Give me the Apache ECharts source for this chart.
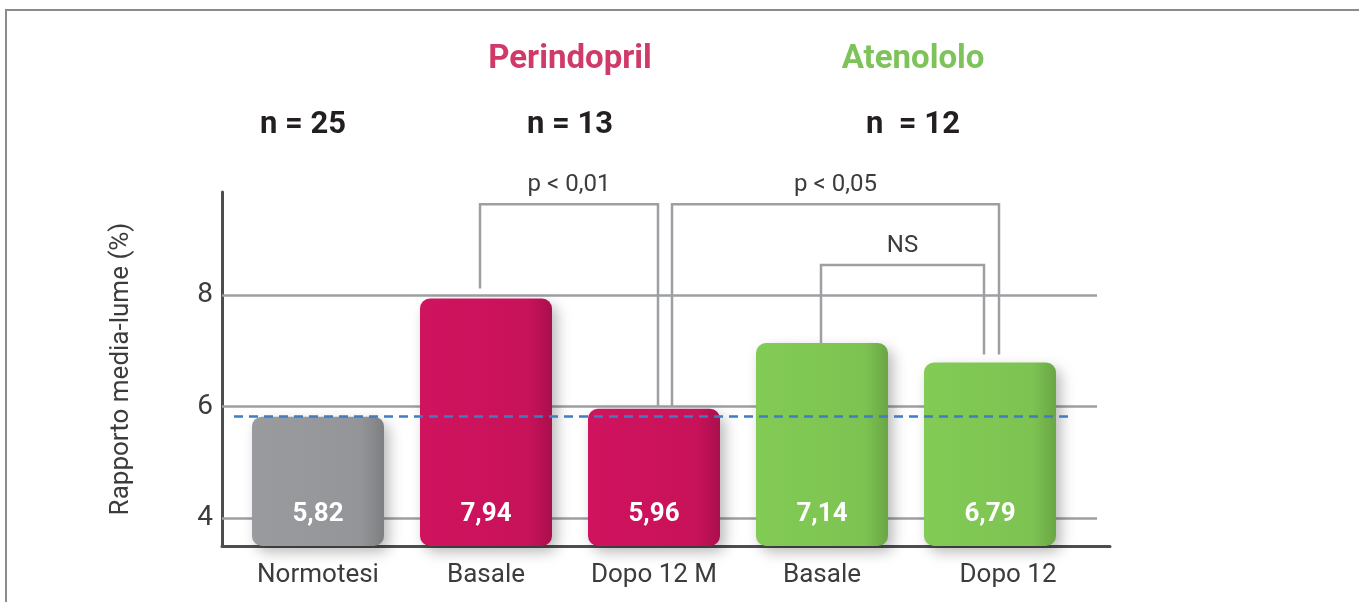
<!DOCTYPE html>
<html>
<head>
<meta charset="utf-8">
<title>Rapporto media-lume</title>
<script src="https://cdn.jsdelivr.net/npm/echarts@6/dist/echarts.min.js"></script>
<style>
  html, body { margin: 0; padding: 0; background: #ffffff; }
  #chart { width: 1359px; height: 602px; }
</style>
</head>
<body>
<div id="chart"></div>
<script>
// Data
const categories = ['Normotesi', 'Basale', 'Dopo 12 M', 'Basale', 'Dopo 12'];
const values = [5.82, 7.94, 5.96, 7.14, 6.79];
const barColors = ['#939598', '#c8125a', '#c8125a', '#7dc352', '#7dc352'];
const yTicks = [4, 6, 8];
const yMin = 3.5;
const yMax = 9.85;
const groupTitles = ['Perindopril', 'Atenololo'];
const groupSizes = ['n = 25', 'n = 13', 'n  = 12'];
// significance brackets: from bar, to bar, bracket height (axis value), text
const bracketFrom = [1, 2, 3];
const bracketTo = [2, 4, 4];
const bracketLevel = [9.63, 9.63, 8.54];
const bracketText = ['p < 0,01', 'p < 0,05', 'NS'];
// normotensive reference level (dashed line)
const referenceValue = values[0];

const chart = echarts.init(document.getElementById('chart'), null, { renderer: 'canvas' });

const FONT = 'Roboto, "DejaVu Sans", sans-serif';
const AXIS_DARK = '#4d4d4f';
const GRID_GREY = '#9d9fa2';
const TEXT_DARK = '#3c3c3c';

function shade(hex, f) {
  const n = parseInt(hex.slice(1), 16);
  const r = Math.round(((n >> 16) & 255) * f);
  const g = Math.round(((n >> 8) & 255) * f);
  const b = Math.round((n & 255) * f);
  return 'rgb(' + Math.min(r, 255) + ',' + Math.min(g, 255) + ',' + Math.min(b, 255) + ')';
}

function barFill(hex) {
  return new echarts.graphic.LinearGradient(0, 0, 1, 0, [
    { offset: 0, color: shade(hex, 1.04) },
    { offset: 0.82, color: hex },
    { offset: 1, color: shade(hex, 0.85) }
  ]);
}

// leg placement of each bracket relative to the bar centres (px) and gap above bar tops
const legShift = [[-6, 4], [18, 9], [-1, -6]];
const legGap = [[10, 2], [2, 8], [0, 8]];

function renderBracket(params, api) {
  const i = params.dataIndex;
  const from = api.value(0);
  const to = api.value(1);
  const level = api.value(2);
  const yLevel = api.coord([from, level])[1];
  const xL = api.coord([from, level])[0] + legShift[i][0];
  const xR = api.coord([to, level])[0] + legShift[i][1];
  const yL = api.coord([from, values[from]])[1] - legGap[i][0];
  const yR = api.coord([to, values[to]])[1] - legGap[i][1];
  return {
    type: 'group',
    children: [
      {
        type: 'polyline',
        shape: { points: [[xL, yL], [xL, yLevel], [xR, yLevel], [xR, yR]] },
        style: { stroke: GRID_GREY, lineWidth: 2.5, fill: null }
      },
      {
        type: 'text',
        style: {
          x: (xL + xR) / 2,
          y: yLevel - 19,
          text: bracketText[i],
          align: 'center',
          verticalAlign: 'middle',
          fill: TEXT_DARK,
          font: '24px ' + FONT
        }
      }
    ]
  };
}

function headerText(text, x, y, color, font) {
  return {
    type: 'text', silent: true, x: x, y: y,
    style: { text: text, align: 'center', verticalAlign: 'middle', fill: color, font: font }
  };
}

const option = {
  animation: false,
  backgroundColor: '#ffffff',
  grid: [
    { left: 222, top: 192, width: 888, height: 354 },   // axis frame
    { left: 222, top: 192, width: 875, height: 354 },   // horizontal gridlines
    { left: 234, top: 192, width: 840, height: 354 }    // bars
  ],
  xAxis: [
    {
      gridIndex: 0, type: 'value', min: 0, max: 1,
      axisLine: { show: true, lineStyle: { color: AXIS_DARK, width: 3 } },
      axisTick: { show: false }, axisLabel: { show: false }, splitLine: { show: false }
    },
    {
      gridIndex: 1, type: 'value', min: 0, max: 1, show: false
    },
    {
      gridIndex: 2, type: 'category', data: categories,
      axisLine: { show: false }, axisTick: { show: false },
      axisLabel: {
        interval: 0,
        hideOverlap: false,
        color: TEXT_DARK, fontSize: 26, fontFamily: FONT, margin: 16,
        // the last label sits a little right of its bar
        formatter: function (v, i) { return i === categories.length - 1 ? '{shift|' + v + '}' : v; },
        rich: { shift: { color: TEXT_DARK, fontSize: 26, fontFamily: FONT, padding: [0, 0, 0, 36] } }
      }
    }
  ],
  yAxis: [
    {
      gridIndex: 0, type: 'value', min: yMin, max: yMax, interval: 0.5,
      axisLine: { show: true, lineStyle: { color: AXIS_DARK, width: 3 } },
      axisTick: { show: false },
      splitLine: { show: false },
      axisLabel: {
        color: TEXT_DARK, fontSize: 28, fontFamily: FONT, margin: 9,
        formatter: function (v) {
          return yTicks.some(function (t) { return Math.abs(t - v) < 1e-6; }) ? String(Math.round(v)) : '';
        }
      },
      name: 'Rapporto media-lume (%)',
      nameLocation: 'middle',
      nameGap: 88,
      nameTextStyle: { color: TEXT_DARK, fontSize: 26, fontFamily: FONT }
    },
    {
      gridIndex: 1, type: 'value', min: yMin, max: yMax,
      axisLine: { show: false }, axisTick: { show: false }, axisLabel: { show: false },
      splitLine: { show: false }
    },
    {
      gridIndex: 2, type: 'value', min: yMin, max: yMax, show: false
    }
  ],
  series: [
    {
      // gridlines at the labelled ticks
      type: 'line',
      xAxisIndex: 1, yAxisIndex: 1,
      data: [],
      silent: true,
      z: 1,
      markLine: {
        silent: true,
        z: 1,
        symbol: ['none', 'none'],
        label: { show: false },
        lineStyle: { color: GRID_GREY, width: 2.5, type: 'solid' },
        emphasis: { disabled: true },
        data: yTicks.map(function (t) { return { yAxis: t }; })
      }
    },
    {
      type: 'bar',
      xAxisIndex: 2, yAxisIndex: 2,
      barWidth: 132,
      z: 3,
      data: values.map(function (v, i) {
        return {
          value: v,
          itemStyle: {
            color: barFill(barColors[i]),
            borderRadius: 10,
            shadowColor: 'rgba(0,0,0,0.28)',
            shadowBlur: 14,
            shadowOffsetX: 5,
            shadowOffsetY: 6
          }
        };
      }),
      label: {
        show: true,
        position: 'insideBottom',
        distance: 19,
        color: '#ffffff',
        fontSize: 26,
        fontWeight: 'bold',
        fontFamily: FONT,
        formatter: function (p) { return p.value.toFixed(2).replace('.', ','); }
      },
      markLine: {
        silent: true,
        z: 6,
        symbol: ['none', 'none'],
        label: { show: false },
        lineStyle: { color: '#3f7cc2', width: 2.5, type: [9, 6] },
        emphasis: { disabled: true },
        data: [{ yAxis: referenceValue }]
      }
    },
    {
      type: 'custom',
      xAxisIndex: 2, yAxisIndex: 2,
      z: 4,
      clip: false,
      silent: true,
      renderItem: renderBracket,
      data: bracketFrom.map(function (f, i) { return [f, bracketTo[i], bracketLevel[i]]; })
    }
  ],
  graphic: [
    {
      type: 'polyline',
      silent: true,
      shape: { points: [[1359, 10], [6, 10], [6, 602]] },
      style: { stroke: '#8c8c8c', lineWidth: 2, fill: null }
    },
    headerText(groupTitles[0], 570, 60, '#d03a68', 'bold 33px ' + FONT),
    headerText(groupTitles[1], 913, 60, '#7ec35a', 'bold 33px ' + FONT),
    headerText(groupSizes[0], 303, 125, '#231f20', 'bold 31px ' + FONT),
    headerText(groupSizes[1], 570, 125, '#231f20', 'bold 31px ' + FONT),
    headerText(groupSizes[2], 913, 125, '#231f20', 'bold 31px ' + FONT)
  ]
};

chart.setOption(option);
</script>
</body>
</html>
